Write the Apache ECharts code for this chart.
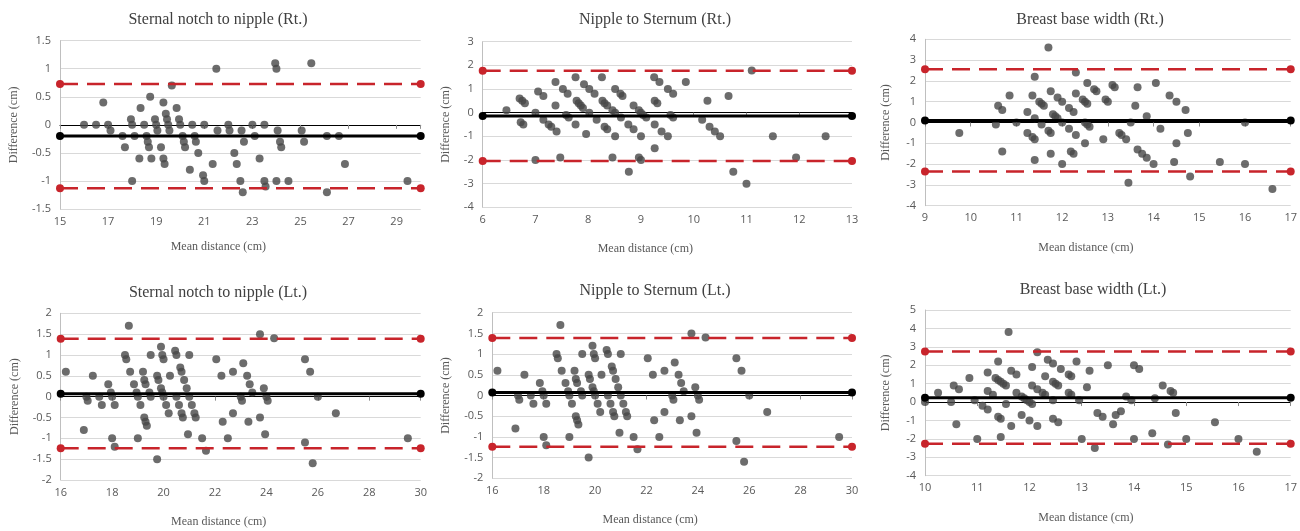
<!DOCTYPE html>
<html>
<head>
<meta charset="utf-8">
<script src="https://cdn.jsdelivr.net/npm/echarts@6/dist/echarts.min.js"></script>
<style>
  html, body { margin: 0; padding: 0; background: #fff; }
  #chart { width: 1300px; height: 531px; }
</style>
</head>
<body>
<div id="chart"></div>
<script>
// Bland-Altman points: [mean distance, difference]
const snRtPts = [
  [16.0, 0], [16.5, 0], [16.8, 0.4], [17.0, 0], [17.1, -0.1], [17.6, -0.2], [17.7, -0.4], [17.95, 0.1],
  [18.0, 0], [18.0, -1.0], [18.1, -0.2], [18.3, -0.6], [18.35, 0.3], [18.5, 0], [18.6, -0.2], [18.65, -0.3],
  [18.7, -0.4], [18.75, 0.5], [18.8, -0.6], [18.95, 0.1], [19.0, 0], [19.05, -0.1], [19.2, -0.4], [19.3, 0.4],
  [19.3, -0.6], [19.35, -0.7], [19.4, 0.2], [19.45, 0.1], [19.5, 0], [19.55, -0.1], [19.65, 0.7], [19.85, 0.3],
  [19.95, 0.1], [20.0, 0], [20.1, -0.2], [20.15, -0.3], [20.2, -0.4], [20.4, -0.8], [20.5, 0], [20.6, -0.2],
  [20.65, -0.3], [20.75, -0.5], [20.95, -0.9], [21.0, -1.0], [21.0, 0], [21.35, -0.7], [21.5, 1.0], [21.55, -0.1],
  [22.0, 0], [22.05, -0.1], [22.25, -0.5], [22.35, -0.7], [22.5, -1.0], [22.55, -0.1], [22.6, -1.2], [22.65, -0.3],
  [23.0, 0], [23.1, -0.2], [23.3, -0.6], [23.5, 0], [23.5, -1.0], [23.55, -1.1], [23.95, 1.1], [24.0, 1.0],
  [24.0, -1.0], [24.05, -0.1], [24.15, -0.3], [24.2, -0.4], [24.5, -1.0], [25.05, -0.1], [25.15, -0.3], [25.45, 1.1],
  [26.1, -0.2], [26.1, -1.2], [26.6, -0.2], [26.85, -0.7], [29.45, -1.0]
];
const ntRtPts = [
  [6.45, 0.1], [6.7, 0.6], [6.75, 0.5], [6.8, 0.4], [6.72, -0.4], [6.77, -0.5], [7.0, 0], [7.0, -2.0],
  [7.05, 0.9], [7.15, 0.7], [7.15, -0.3], [7.25, -0.5], [7.3, -0.6], [7.4, -0.8], [7.38, 1.3], [7.38, 0.3],
  [7.47, -1.9], [7.52, 1.0], [7.61, 0.8], [7.58, -0.1], [7.63, -0.2], [7.76, 1.5], [7.76, -0.5], [7.78, 0.5],
  [7.82, 0.4], [7.86, 0.3], [7.9, 0.2], [7.92, 1.2], [8.02, 1.0], [8.12, 0.8], [8.02, 0], [7.96, -0.9],
  [8.16, -0.3], [8.26, 1.5], [8.27, 0.5], [8.31, 0.4], [8.36, 0.3], [8.31, -0.6], [8.36, -0.7], [8.46, 0.1],
  [8.51, 0], [8.46, -1.9], [8.51, 1.0], [8.61, 0.8], [8.65, 0.7], [8.51, -1.0], [8.62, -0.2], [8.76, -0.5],
  [8.77, -2.5], [8.86, 0.3], [8.86, -0.7], [8.96, 0.1], [9.0, 0], [9.04, -0.1], [9.1, -0.2], [9.0, -1.0],
  [8.96, -1.9], [9.0, -2.0], [9.25, 1.5], [9.35, 1.3], [9.26, 0.5], [9.31, 0.4], [9.26, -0.5], [9.26, -1.5],
  [9.39, -0.8], [9.51, -1.0], [9.51, 1.0], [9.61, 0.8], [9.56, -0.1], [9.61, -0.2], [9.85, 1.3], [10.16, -0.3],
  [10.26, 0.5], [10.3, -0.6], [10.4, -0.8], [10.5, -1.0], [10.66, 0.7], [10.75, -2.5], [11.0, -3.0], [11.1, 1.78],
  [11.5, -1.0], [11.94, -1.9], [12.5, -1.0]
];
const bbRtPts = [
  [9.75, -0.5], [10.55, -0.1], [10.6, 0.8], [10.69, 0.6], [10.69, -1.4], [10.85, 1.3], [11.0, 0], [11.24, 0.5],
  [11.24, -0.5], [11.35, -0.7], [11.4, -0.8], [11.35, 1.3], [11.4, 2.2], [11.4, 0.2], [11.4, -1.8], [11.5, 1.0],
  [11.55, 0.9], [11.6, 0.8], [11.55, -0.1], [11.7, 3.6], [11.75, 1.5], [11.75, -1.5], [11.7, -0.4], [11.75, -0.5],
  [11.8, 0.4], [11.85, 0.3], [11.9, 1.2], [12.0, 1.0], [11.9, 0.2], [12.0, 0], [12.0, -2.0], [12.15, 0.7],
  [12.25, 0.5], [12.15, -0.3], [12.19, -1.4], [12.25, -1.5], [12.3, 2.4], [12.3, 1.4], [12.3, -0.6], [12.45, 1.1],
  [12.5, 1.0], [12.55, 0.9], [12.5, -1.0], [12.55, 1.9], [12.5, 0], [12.55, -0.1], [12.6, -0.2], [12.7, 1.6],
  [12.75, 1.5], [12.9, -0.8], [12.95, 1.1], [13.0, 1.0], [13.1, 1.8], [13.15, 1.7], [13.25, -0.5], [13.3, -0.6],
  [13.4, -0.8], [13.45, -2.9], [13.5, 0], [13.6, 0.8], [13.65, 1.7], [13.65, -1.3], [13.75, -1.5], [13.85, -1.7],
  [13.85, 0.3], [14.0, -2.0], [14.05, 1.9], [14.15, -0.3], [14.35, 1.3], [14.5, 1.0], [14.45, -1.9], [14.5, -1.0],
  [14.7, 0.6], [14.75, -0.5], [14.8, -2.6], [15.45, -1.9], [16.0, 0], [16.0, -2.0], [16.6, -3.2]
];
const snLtPts = [
  [16.2, 0.6], [16.9, -0.8], [17.0, 0], [17.05, -0.1], [17.25, 0.5], [17.5, 0], [17.6, -0.2], [17.85, 0.3],
  [17.95, 0.1], [18.0, 0], [18.0, -1.0], [18.1, -1.2], [18.1, -0.2], [18.5, 1.0], [18.55, 0.9], [18.65, 1.7],
  [18.7, 0.6], [18.85, 0.3], [18.95, 0.1], [19.0, 0], [19.0, -1.0], [19.1, -0.2], [19.2, 0.6], [19.25, 0.4],
  [19.3, 0.3], [19.25, -0.5], [19.3, -0.6], [19.35, -0.7], [19.5, 1.0], [19.45, 0.1], [19.5, 0], [19.75, 0.5],
  [19.8, 0.4], [19.75, -1.5], [19.9, 1.2], [19.95, 1.0], [20.0, 0.9], [19.9, 0.2], [19.95, 0.1], [20.0, 0],
  [20.1, -0.2], [20.2, -0.4], [20.25, 0.5], [20.45, 1.1], [20.5, 1.0], [20.5, 0], [20.6, -0.2], [20.65, 0.7],
  [20.7, 0.6], [20.7, -0.4], [20.75, -0.5], [20.8, 0.4], [20.9, 0.2], [20.95, -0.9], [21.0, 1.0], [21.0, 0],
  [21.1, -0.2], [21.2, -0.4], [21.25, -0.5], [21.5, -1.0], [21.65, -1.3], [22.05, 0.9], [22.25, 0.5], [22.3, -0.6],
  [22.5, -1.0], [22.7, 0.6], [22.7, -0.4], [23.0, 0], [23.05, -0.1], [23.1, 0.8], [23.25, 0.5], [23.3, -0.6],
  [23.35, 0.3], [23.45, 0.1], [23.75, 1.5], [23.75, -0.5], [23.9, 0.2], [23.95, -0.9], [24.0, 0], [24.05, -0.1],
  [24.3, 1.4], [25.5, 0.9], [25.5, -1.1], [25.7, 0.6], [25.8, -1.6], [26.0, 0], [26.7, -0.4], [29.5, -1.0]
];
// the reference plots the very same points for "Nipple to Sternum (Lt.)"
const ntLtPts = snLtPts;
const bbLtPts = [
  [10.0, 0], [10.25, 0.5], [10.5, 0], [10.55, 0.9], [10.65, 0.7], [10.6, -1.2], [10.85, 1.3], [10.95, 0.1],
  [11.0, -2.0], [11.1, -0.2], [11.2, -0.4], [11.2, 1.6], [11.2, 0.6], [11.3, 0.4], [11.4, 2.2], [11.35, 1.3],
  [11.4, 1.2], [11.45, 1.1], [11.5, 1.0], [11.55, 0.9], [11.4, -0.8], [11.45, -0.9], [11.45, -1.9], [11.55, -0.1],
  [11.6, 3.8], [11.65, 1.7], [11.75, 1.5], [11.65, -1.3], [11.75, 0.5], [11.85, 0.3], [11.9, 0.2], [11.95, 0.1],
  [12.0, 0], [12.05, -0.1], [11.85, -0.7], [12.0, -1.0], [12.05, 1.9], [12.05, 0.9], [12.15, 0.7], [12.25, 0.5],
  [12.3, 0.4], [12.15, -1.3], [12.15, 2.7], [12.3, 1.4], [12.35, 2.3], [12.45, 2.1], [12.45, 1.1], [12.5, 1.0],
  [12.55, 0.9], [12.45, 0.1], [12.45, -0.9], [12.55, -1.1], [12.6, 1.8], [12.75, 1.5], [12.8, 1.4], [12.75, 0.5],
  [12.8, 0.4], [12.9, 2.2], [12.95, 0.1], [13.0, -2.0], [13.1, 0.8], [13.15, 1.7], [13.25, -2.5], [13.3, -0.6],
  [13.4, -0.8], [13.5, 2.0], [13.6, -1.2], [13.65, -0.7], [13.75, -0.5], [13.85, 0.3], [13.95, 0.1], [14.0, 2.0],
  [14.1, 1.8], [14.0, -2.0], [14.35, -1.7], [14.4, 0.2], [14.55, 0.9], [14.7, 0.6], [14.75, 0.5], [14.65, -2.3],
  [14.8, -0.6], [15.0, -2.0], [15.55, -1.1], [16.0, -2.0], [16.35, -2.7]
];

// [mean difference, upper limit, lower limit]
const snRtStats = [-0.2, 0.73, -1.13];
const ntRtStats = [-0.14, 1.77, -2.04];
const bbRtStats = [0.1, 2.56, -2.36];
const snLtStats = [0.07, 1.39, -1.24];
const ntLtStats = [0.07, 1.39, -1.24];
const bbLtStats = [0.24, 2.74, -2.27];

const titles = [
  'Sternal notch to nipple (Rt.)', 'Nipple to Sternum (Rt.)', 'Breast base width (Rt.)',
  'Sternal notch to nipple (Lt.)', 'Nipple to Sternum (Lt.)', 'Breast base width (Lt.)'
];
// [min, max, interval]
const xRanges = [[15, 30, 2], [6, 13, 1], [9, 17, 1], [16, 30, 2], [16, 30, 2], [10, 17, 1]];
const yRanges = [[-1.5, 1.5, 0.5], [-4, 3, 1], [-4, 4, 1], [-2, 2, 0.5], [-2, 2, 0.5], [-4, 5, 1]];

const panels = [
  { pts: snRtPts, stats: snRtStats, rect: [60, 40.7, 360.7, 168.3], titleXY: [213, 7], yGap: 40, xGap: 32, hideMax: true },
  { pts: ntRtPts, stats: ntRtStats, rect: [482.7, 41.7, 369.3, 165.6], titleXY: [650, 7], yGap: 31, xGap: 36 },
  { pts: bbRtPts, stats: bbRtStats, rect: [925, 39.3, 368.3, 166.4], titleXY: [1085, 7], yGap: 33, xGap: 36 },
  { pts: snLtPts, stats: snLtStats, rect: [60.7, 313.3, 360, 166.7], titleXY: [213, 280], yGap: 40, xGap: 36 },
  { pts: ntLtPts, stats: ntLtStats, rect: [492.3, 312.7, 359.7, 165.6], titleXY: [650, 278], yGap: 40, xGap: 36 },
  { pts: bbLtPts, stats: bbLtStats, rect: [925, 310, 368.3, 165.7], titleXY: [1088, 277], yGap: 33, xGap: 36 }
];

const serif = "'Liberation Serif', 'DejaVu Serif', serif";
const sans = "'Open Sans', 'Noto Sans', sans-serif";
const dotColor = '#474747';
const red = '#c8242b';

const title = [], grid = [], xAxis = [], yAxis = [], series = [];

panels.forEach((p, i) => {
  const [xmin, xmax, xint] = xRanges[i];
  const [ymin, ymax, yint] = yRanges[i];
  const [mean, upper, lower] = p.stats;

  title.push({
    text: titles[i],
    left: p.titleXY[0],
    top: p.titleXY[1],
    textAlign: 'center',
    textStyle: { fontFamily: serif, fontSize: 16, fontWeight: 'normal', color: '#404040' }
  });

  grid.push({ left: p.rect[0], top: p.rect[1], width: p.rect[2], height: p.rect[3] });

  // axis carrying the labels along the bottom
  xAxis.push({
    type: 'value', gridIndex: i, min: xmin, max: xmax, interval: xint,
    name: 'Mean distance (cm)', nameLocation: 'middle', nameGap: p.xGap,
    nameTextStyle: { fontFamily: serif, fontSize: 12, color: '#595959', padding: [0, 44, 0, 0] },
    axisLine: { show: false, onZero: false },
    axisTick: { show: false },
    splitLine: { show: false },
    axisLabel: { fontFamily: sans, fontSize: 11, color: '#595959', margin: 7, showMaxLabel: !p.hideMax }
  });
  // zero line with tick marks
  xAxis.push({
    type: 'value', gridIndex: i, min: xmin, max: xmax, interval: xint, position: 'bottom',
    axisLine: { show: true, onZero: true, onZeroAxisIndex: i, lineStyle: { color: '#000', width: 1 } },
    axisTick: { show: true, length: 4, lineStyle: { color: '#8c8c8c' } },
    axisLabel: { show: false },
    splitLine: { show: false }
  });

  yAxis.push({
    type: 'value', gridIndex: i, min: ymin, max: ymax, interval: yint,
    name: 'Difference (cm)', nameLocation: 'middle', nameRotate: 90, nameGap: p.yGap,
    nameTextStyle: { fontFamily: serif, fontSize: 12, color: '#595959' },
    axisLine: { show: true, onZero: false, lineStyle: { color: '#bfbfbf' } },
    axisTick: { show: false },
    splitLine: { show: true, lineStyle: { color: '#d9d9d9', width: 1 } },
    axisLabel: { fontFamily: sans, fontSize: 11, color: '#595959', margin: 9 }
  });

  series.push({
    type: 'scatter', xAxisIndex: i * 2, yAxisIndex: i,
    data: p.pts, symbolSize: 8, itemStyle: { color: dotColor }, z: 3
  });
  series.push({
    type: 'line', xAxisIndex: i * 2, yAxisIndex: i,
    data: [[xmin, mean], [xmax, mean]], symbol: 'circle', symbolSize: 8, showSymbol: true,
    lineStyle: { color: '#000', width: 3 }, itemStyle: { color: '#000' }, z: 4
  });
  [upper, lower].forEach(v => {
    series.push({
      type: 'line', xAxisIndex: i * 2, yAxisIndex: i,
      data: [[xmin, v], [xmax, v]], symbol: 'circle', symbolSize: 8, showSymbol: true,
      lineStyle: { color: red, width: 2.5, type: [18, 9] }, itemStyle: { color: red }, z: 4
    });
  });
});

const myChart = echarts.init(document.getElementById('chart'));
myChart.setOption({ animation: false, title, grid, xAxis, yAxis, series });
</script>
</body>
</html>
